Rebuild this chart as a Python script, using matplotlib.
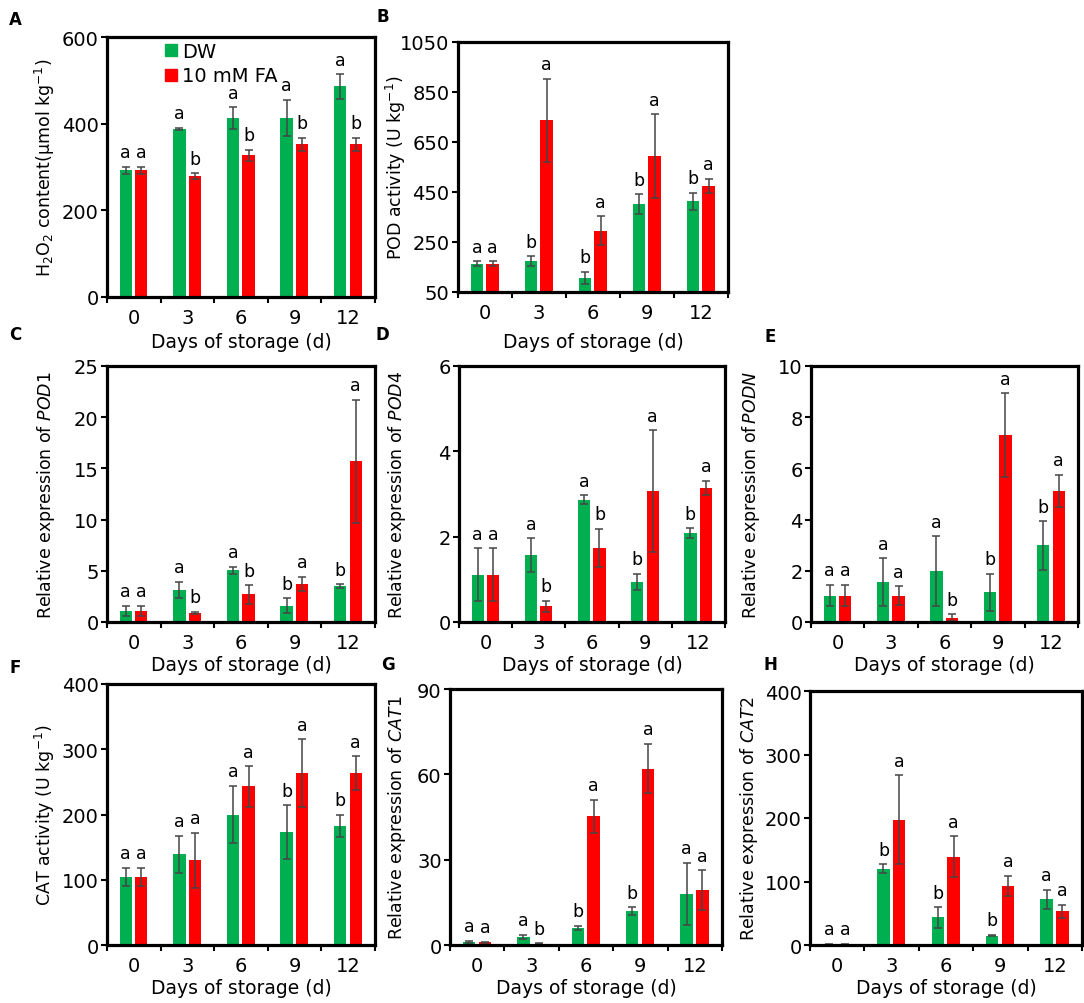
import numpy as np
import matplotlib
matplotlib.use("Agg")
import matplotlib.pyplot as plt
from matplotlib.lines import Line2D

plt.rcParams['font.family'] = ['DejaVu Sans']
plt.rcParams['mathtext.fontset'] = 'dejavusans'

# -------------------------
# Data
# -------------------------
days = ['0', '3', '6', '9', '12']

# A: H2O2 content
h2o2_dw = [292, 388, 413, 413, 486]
h2o2_dw_err = [9, 3, 25, 42, 28]
h2o2_fa = [292, 279, 327, 352, 352]
h2o2_fa_err = [9, 7, 13, 16, 16]
h2o2_let_dw = ['a', 'a', 'a', 'a', 'a']
h2o2_let_fa = ['a', 'b', 'b', 'b', 'b']

# B: POD activity
pod_dw = [163, 173, 106, 402, 413]
pod_dw_err = [10, 20, 24, 39, 33]
pod_fa = [163, 737, 295, 593, 475]
pod_fa_err = [10, 165, 58, 168, 28]
pod_let_dw = ['a', 'b', 'b', 'b', 'b']
pod_let_fa = ['a', 'a', 'a', 'a', 'a']

# C: POD1
pod1_dw = [1.1, 3.15, 5.05, 1.6, 3.5]
pod1_dw_err = [0.5, 0.8, 0.35, 0.7, 0.2]
pod1_fa = [1.1, 0.9, 2.7, 3.7, 15.7]
pod1_fa_err = [0.5, 0.12, 0.9, 0.7, 6.0]
pod1_let_dw = ['a', 'a', 'a', 'b', 'b']
pod1_let_fa = ['a', 'b', 'b', 'a', 'a']

# D: POD4
pod4_dw = [1.11, 1.57, 2.87, 0.94, 2.08]
pod4_dw_err = [0.62, 0.39, 0.1, 0.19, 0.12]
pod4_fa = [1.11, 0.37, 1.74, 3.06, 3.14]
pod4_fa_err = [0.62, 0.13, 0.45, 1.43, 0.17]
pod4_let_dw = ['a', 'a', 'a', 'b', 'b']
pod4_let_fa = ['a', 'b', 'b', 'a', 'a']

# E: PODN
podn_dw = [1.03, 1.55, 1.98, 1.16, 2.99]
podn_dw_err = [0.42, 0.94, 1.36, 0.72, 0.94]
podn_fa = [1.03, 1.03, 0.17, 7.3, 5.12]
podn_fa_err = [0.42, 0.37, 0.14, 1.63, 0.64]
podn_let_dw = ['a', 'a', 'a', 'b', 'b']
podn_let_fa = ['a', 'a', 'b', 'a', 'a']

# F: CAT activity
cat_dw = [104, 139, 200, 173, 183]
cat_dw_err = [14, 28, 44, 41, 17]
cat_fa = [104, 130, 243, 263, 263]
cat_fa_err = [14, 42, 31, 52, 26]
cat_let_dw = ['a', 'a', 'a', 'b', 'b']
cat_let_fa = ['a', 'a', 'a', 'a', 'a']

# G: CAT1
cat1_dw = [1.1, 2.9, 5.9, 11.8, 17.9]
cat1_dw_err = [0.3, 0.7, 0.8, 1.4, 11.0]
cat1_fa = [0.9, 0.5, 45.2, 62.0, 19.3]
cat1_fa_err = [0.2, 0.1, 5.9, 8.7, 6.9]
cat1_let_dw = ['a', 'a', 'b', 'b', 'a']
cat1_let_fa = ['a', 'b', 'a', 'a', 'a']

# H: CAT2
cat2_dw = [1.0, 120, 43.5, 14.7, 72]
cat2_dw_err = [0.5, 7, 16, 1, 15]
cat2_fa = [1.0, 197, 139, 93, 53]
cat2_fa_err = [0.5, 70, 32, 16, 10]
cat2_let_dw = ['a', 'b', 'b', 'b', 'a']
cat2_let_fa = ['a', 'a', 'a', 'a', 'a']

GREEN = '#00B050'
RED = '#FF0000'
W, H = 1084, 1004

fig = plt.figure(figsize=(W / 100, H / 100), dpi=100)

# panel: (letter, ylabel, yticks, box px (l, t, r, b), ylabel x px, xlabel y px, label pos, data)
panels = [
    ('A', r'H$_2$O$_2$ content(μmol kg$^{-1}$)', np.arange(0, 601, 200), (107, 38, 375, 298), 47, 340, (15, 20),
     (h2o2_dw, h2o2_dw_err, h2o2_fa, h2o2_fa_err, h2o2_let_dw, h2o2_let_fa)),
    ('B', r'POD activity (U kg$^{-1}$)', np.arange(50, 1051, 200), (458, 43, 728, 293), 398, 340, (383, 17),
     (pod_dw, pod_dw_err, pod_fa, pod_fa_err, pod_let_dw, pod_let_fa)),
    ('C', r'Relative expression of $\mathit{POD1}$', np.arange(0, 26, 5), (107, 367, 375, 623), 47, 663, (15, 335),
     (pod1_dw, pod1_dw_err, pod1_fa, pod1_fa_err, pod1_let_dw, pod1_let_fa)),
    ('D', r'Relative expression of $\mathit{POD4}$', np.arange(0, 7, 2), (459, 367, 725, 623), 398, 663, (382, 335),
     (pod4_dw, pod4_dw_err, pod4_fa, pod4_fa_err, pod4_let_dw, pod4_let_fa)),
    ('E', r'Relative expression of$\,\mathit{PODN}$', np.arange(0, 11, 2), (811, 367, 1078, 623), 752, 663, (770, 337),
     (podn_dw, podn_dw_err, podn_fa, podn_fa_err, podn_let_dw, podn_let_fa)),
    ('F', r'CAT activity (U kg$^{-1}$)', np.arange(0, 401, 100), (107, 685, 375, 946), 47, 986, (15, 668),
     (cat_dw, cat_dw_err, cat_fa, cat_fa_err, cat_let_dw, cat_let_fa)),
    ('G', r'Relative expression of $\mathit{CAT1}$', np.arange(0, 91, 30), (450, 690, 722, 946), 398, 986, (388, 665),
     (cat1_dw, cat1_dw_err, cat1_fa, cat1_fa_err, cat1_let_dw, cat1_let_fa)),
    ('H', r'Relative expression of $\mathit{CAT2}$', np.arange(0, 401, 100), (810, 692, 1082, 946), 750, 986, (770, 665),
     (cat2_dw, cat2_dw_err, cat2_fa, cat2_fa_err, cat2_let_dw, cat2_let_fa)),
]

x = np.arange(len(days))
bw = 0.23

for letter, ylab, yticks, (l, t, r, b), ylx, xly, (lx, ly), d in panels:
    dw, dw_err, fa, fa_err, let_dw, let_fa = d
    ax = fig.add_axes([l / W, 1 - b / H, (r - l) / W, (b - t) / H])
    err_kw = dict(ecolor='#454545', elinewidth=1.1, capsize=3, capthick=1.1)
    ax.bar(x - 0.15, dw, bw, yerr=dw_err, color=GREEN, error_kw=err_kw, label='DW')
    ax.bar(x + 0.14, fa, bw, yerr=fa_err, color=RED, error_kw=err_kw, label='10 mM FA')

    for i in range(len(days)):
        ax.annotate(let_dw[i], (x[i] - 0.15, dw[i] + dw_err[i]), xytext=(0, 4),
                    textcoords='offset points', ha='center', va='bottom', fontsize=12.5)
        ax.annotate(let_fa[i], (x[i] + 0.14, fa[i] + fa_err[i]), xytext=(0, 4),
                    textcoords='offset points', ha='center', va='bottom', fontsize=12.5)

    ax.set_xlim(-0.5, len(days) - 0.5)
    ax.set_ylim(yticks[0], yticks[-1])
    ax.set_yticks(yticks)
    ax.tick_params(axis='y', labelsize=14, length=4, width=1.5, pad=2, direction='out')

    # excel-style category axis: marks between groups, labels at centers
    ax.set_xticks(np.arange(-0.5, len(days)))
    ax.set_xticklabels([])
    ax.set_xticks(x, minor=True)
    ax.set_xticklabels(days, minor=True)
    ax.tick_params(axis='x', which='major', length=4, width=1.5, direction='out')
    ax.tick_params(axis='x', which='minor', length=0, labelsize=14, pad=8)

    for s in ax.spines.values():
        s.set_linewidth(2.3)

    ax.set_ylabel(ylab, fontsize=12.5)
    ax.yaxis.set_label_coords((ylx + 10) / W, 1 - ((t + b) / 2) / H, transform=fig.transFigure)
    ax.set_xlabel('Days of storage (d)', fontsize=13.5)
    ax.xaxis.set_label_coords(((l + r) / 2) / W, 1 - (xly - 7) / H, transform=fig.transFigure)

    fig.text(lx / W, 1 - ly / H, letter, fontsize=12, fontweight='bold', ha='center', va='center')

    if letter == 'A':
        handles = [Line2D([], [], marker='s', color=GREEN, ls='', markersize=9),
                   Line2D([], [], marker='s', color=RED, ls='', markersize=9)]
        ax.legend(handles, ['DW', '10 mM FA'], loc='upper left', bbox_to_anchor=(0.18, 1.02),
                  frameon=False, fontsize=14, handlelength=0.6, handletextpad=0.3,
                  labelspacing=0.3, borderpad=0.0)

fig.savefig('out.png', dpi=100)
